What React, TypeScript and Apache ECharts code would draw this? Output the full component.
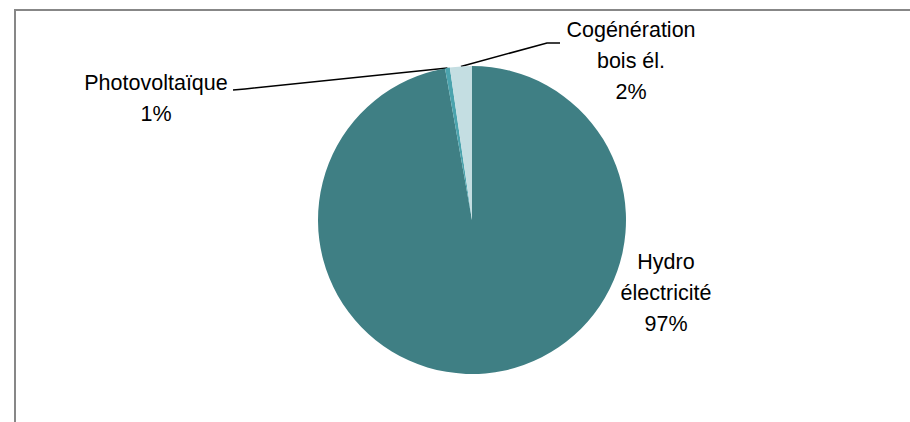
import React, { useEffect, useRef } from "react";
import * as echarts from "echarts";

const categories = ["Hydro\nélectricité", "Photovoltaïque", "Cogénération\nbois él."];
const values = [97.2, 0.5, 2.3];
const colors = ["#3f7f84", "#4ba3ad", "#c4dee2"];

export default function App() {
  const ref = useRef<HTMLDivElement>(null);
  useEffect(() => {
    document.body.style.margin = "0";
    const chart = echarts.init(ref.current!, null, { renderer: "svg" });
    const labelPos: Record<number, { x: number; y: number }> = {
      0: { x: 666, y: 293 },
      1: { x: 156, y: 98 },
      2: { x: 631, y: 61 },
    };
    chart.setOption({
      animation: false,
      backgroundColor: "#ffffff",
      graphic: [
        {
          type: "rect",
          shape: { x: 15, y: 10, width: 920, height: 440 },
          style: { fill: "none", stroke: "#878787", lineWidth: 2 },
          silent: true,
        },
      ],
      series: [
        {
          type: "pie",
          center: [472, 220],
          radius: [0, 154],
          startAngle: 90,
          clockwise: true,
          percentPrecision: 0,
          avoidLabelOverlap: false,
          itemStyle: { borderWidth: 0 },
          label: {
            show: true,
            position: "outside",
            formatter: "{b}\n{d}%",
            fontFamily: "'Liberation Sans', Arial, sans-serif",
            fontSize: 21.5,
            lineHeight: 31,
            color: "#000",
            align: "center",
          },
          labelLine: {
            show: true,
            lineStyle: { color: "#000", width: 1.5 },
          },
          labelLayout: (params: any) => {
            const p = labelPos[params.dataIndex];
            const out: any = { x: p.x, y: p.y, align: "center", verticalAlign: "middle" };
            const edge = params.labelLinePoints ? params.labelLinePoints[0] : null;
            if (edge && params.dataIndex === 1) {
              out.labelLinePoints = [edge, [245, 89], [233, 90]];
            } else if (edge && params.dataIndex === 2) {
              out.labelLinePoints = [edge, [547, 43], [560, 43]];
            }
            return out;
          },
          data: categories.map((c, i) => ({
            name: c,
            value: values[i],
            itemStyle: { color: colors[i] },
            labelLine: { show: i !== 0 },
          })),
        },
      ],
    });
    return () => chart.dispose();
  }, []);
  return <div ref={ref} style={{ width: 910, height: 422 }} />;
}
